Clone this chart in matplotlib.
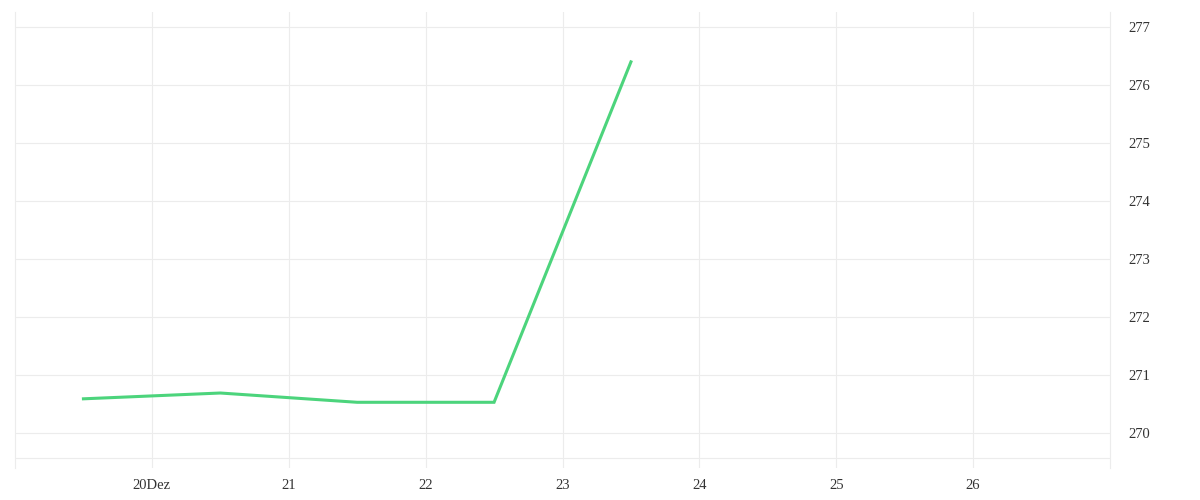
import numpy as np
import matplotlib
matplotlib.use('Agg')
from matplotlib import pyplot as plt
import matplotlib.dates as mdates
from datetime import datetime

# data
dates = ['2023-12-19 12:00', '2023-12-20 12:00', '2023-12-21 12:00', '2023-12-22 12:00', '2023-12-23 12:00']
values = [270.59, 270.69, 270.53, 270.53, 276.40]

tick_dates = ['2023-12-20', '2023-12-21', '2023-12-22', '2023-12-23', '2023-12-24', '2023-12-25', '2023-12-26']
tick_labels = ['20Dez', '21', '22', '23', '24', '25', '26']
y_ticks = [270, 271, 272, 273, 274, 275, 276, 277]

grid_col = '#ececec'
text_col = '#333333'

x = [datetime.strptime(d, '%Y-%m-%d %H:%M') for d in dates]
xt = [datetime.strptime(d, '%Y-%m-%d') for d in tick_dates]

plt.rcParams['font.family'] = ['Liberation Serif', 'DejaVu Serif']

fig = plt.figure(figsize=(12, 5), dpi=100)
ax = fig.add_axes([15/1200, 32/500, 1095/1200, 456/500])

ax.plot(x, values, color='#4cd47c', lw=2.2, solid_joinstyle='miter')

ax.set_xlim(datetime(2023, 12, 19), datetime(2023, 12, 27))
ax.set_ylim(269.397, 277.26)

ax.set_xticks(xt)
ax.set_xticklabels(tick_labels)
ax.set_yticks(y_ticks)
ax.yaxis.tick_right()

ax.grid(True, color=grid_col, lw=0.8)
ax.axhline(269.57, color=grid_col, lw=0.8)
ax.tick_params(axis='both', length=0, labelsize=10.5, labelcolor=text_col)
ax.tick_params(axis='x', pad=8)
ax.tick_params(axis='y', pad=13)

for s in ['top', 'bottom']:
    ax.spines[s].set_visible(False)
for s in ['left', 'right']:
    ax.spines[s].set_color(grid_col)
    ax.spines[s].set_linewidth(0.8)

fig.savefig('out.png', dpi=100, facecolor='white')
